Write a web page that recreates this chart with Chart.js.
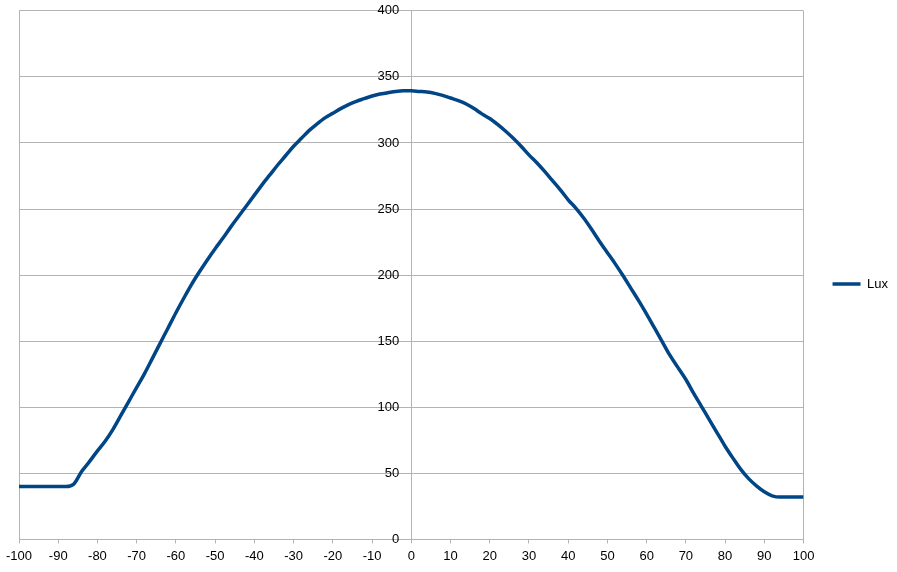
<!DOCTYPE html>
<html>
<head>
<meta charset="utf-8">
<script src="https://cdn.jsdelivr.net/npm/chart.js@4/dist/chart.umd.min.js"></script>
<style>
  html, body { margin: 0; padding: 0; background: #fff; }
  #wrap { width: 897px; height: 572px; position: relative; }
</style>
</head>
<body>
<div id="wrap"><canvas id="chart"></canvas></div>
<script>
// angle (deg) vs measured illuminance
const angles = [
    -100, -88, -86, -84, -82, -80, -78, -76, -74, -72, -70, -68, -66, -64, -62, -60,
    -58, -56, -54, -52, -50, -48, -46, -44, -42, -40, -38, -36, -34, -32, -30, -28,
    -26, -24, -22, -20, -18, -16, -14, -12, -10, -8, -6, -4, -2, 0, 2, 4,
    6, 8, 10, 12, 14, 16, 18, 20, 22, 24, 26, 28, 30, 32, 34, 36,
    38, 40, 42, 44, 46, 48, 50, 52, 54, 56, 58, 60, 62, 64, 66, 68,
    70, 72, 74, 76, 78, 80, 82, 84, 86, 88, 90, 92, 94, 100
];
const lux = [
    40, 40, 42, 51.5, 59, 67, 74.5, 83.5, 94, 104.5, 115, 125.5, 137, 148.5, 160, 171.5,
    182.5, 193, 202.5, 211.5, 220, 228, 236.5, 244.5, 252.5, 260.5, 268.5, 276, 283.5, 290.5, 297.5, 303.5,
    309.5, 314.5, 319, 322.5, 326, 329, 331.5, 333.5, 335.5, 337, 338, 339, 339.5, 339.5, 339, 338.5,
    337.5, 336, 334, 332, 329.5, 326, 322, 318.5, 314, 309, 303.5, 297.5, 291, 285, 278.5, 271.5,
    264.5, 257, 250.5, 243, 234.5, 225.5, 217, 208.5, 199.5, 190, 180.5, 170.5, 160, 149.5, 139, 130,
    121, 110.5, 100.5, 90.5, 80.5, 70.5, 61.5, 53, 46, 40.5, 36, 33, 32, 32
];
const seriesLabel = 'Lux';

const gridGrey = '#b3b3b3';
const lineBlue = '#004586';

Chart.defaults.font.family = "'Liberation Sans', Arial, sans-serif";
Chart.defaults.font.size = 13;
Chart.defaults.color = '#000';

// y axis sits at x = 0, push its labels off the axis line
const yLabelGap = {
    id: 'yLabelGap',
    beforeDraw(chart) {
        const s = chart.scales.y;
        const items = s.getLabelItems();
        if (items._shifted) return;
        items.forEach(it => { it.options.translation[0] -= 12; });
        items._shifted = true;
    }
};

new Chart(document.getElementById('chart'), {
    type: 'line',
    data: {
        datasets: [{
            label: seriesLabel,
            data: angles.map((a, i) => ({ x: a, y: lux[i] })),
            borderColor: lineBlue,
            backgroundColor: lineBlue,
            borderWidth: 3.5,
            pointRadius: 0,
            cubicInterpolationMode: 'monotone',
            fill: false
        }]
    },
    options: {
        responsive: true,
        maintainAspectRatio: false,
        animation: false,
        layout: { padding: { left: 19, top: -1, right: -1, bottom: 3 } },
        plugins: {
            tooltip: { enabled: false },
            legend: {
                position: 'right',
                labels: {
                    usePointStyle: true,
                    pointStyle: 'line',
                    pointStyleWidth: 28,
                    boxHeight: 3,
                    padding: 29,
                    color: '#000',
                    font: { size: 13 }
                }
            }
        },
        scales: {
            x: {
                type: 'linear',
                min: -100,
                max: 100,
                ticks: { stepSize: 10, padding: 5, maxRotation: 0 },
                grid: {
                    color: c => (c.tick && Math.abs(c.tick.value) === 100) ? gridGrey : 'rgba(0,0,0,0)',
                    tickColor: gridGrey,
                    tickLength: 4,
                    lineWidth: 1
                },
                border: { display: true, color: gridGrey }
            },
            y: {
                min: 0,
                max: 400,
                position: { x: 0 },
                ticks: { stepSize: 50 },
                grid: { color: gridGrey, drawTicks: false, lineWidth: 1 },
                border: { display: true, color: gridGrey }
            }
        }
    },
    plugins: [yLabelGap]
});
</script>
</body>
</html>
